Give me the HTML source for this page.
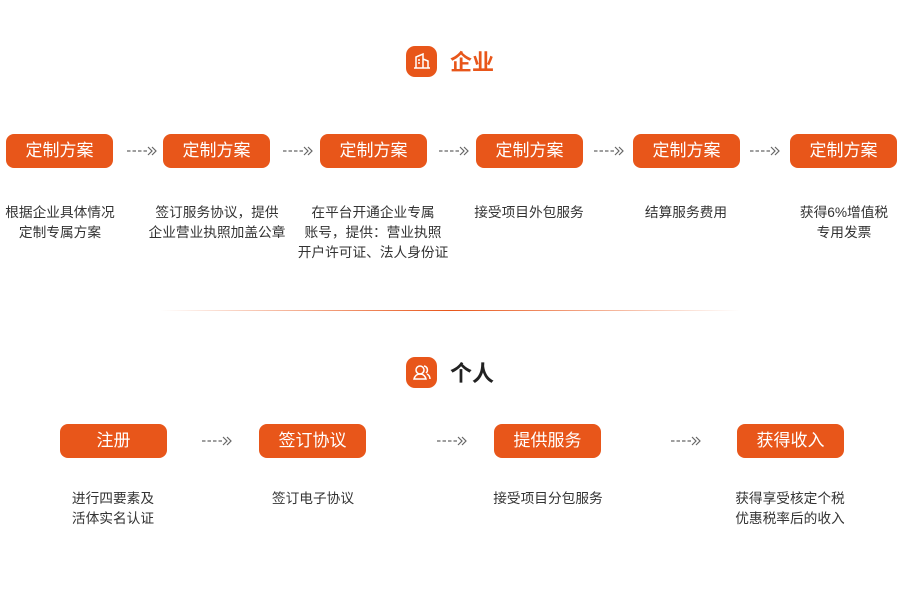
<!DOCTYPE html>
<html><head><meta charset="utf-8"><style>
body{margin:0;width:900px;height:600px;background:#fff;position:relative;font-family:"Liberation Sans","Noto Sans CJK SC",sans-serif;overflow:hidden}
.b{position:absolute;height:34px;width:107px;background:#e8561a;color:#fff;border-radius:8px;font-size:17px;line-height:34px;text-align:center}
.t{position:absolute;width:180px;text-align:center;font-size:13.7px;line-height:20px;color:#333}
.a{position:absolute;width:31px;height:10px}
.h{position:absolute;font-size:22px;font-weight:bold}
.ic{position:absolute;width:31px;height:31px;border-radius:9px;background:#e8561a}
</style></head><body>
<svg width="0" height="0" style="position:absolute"><defs><g id="ar"><path d="M0 5H20" stroke="#666" stroke-width="1.2" stroke-dasharray="3.5 2"/><path d="M21 1l4 4-4 4M25 1l4 4-4 4" stroke="#666" stroke-width="1.2" fill="none"/></g></defs></svg>
<div class="ic" style="left:406px;top:46px"><svg width="31" height="31"><path d="M10 22V11l7-3v14M17 13l5 2v7M8 22h16M12 14h2M12 17h2" stroke="#fff" stroke-width="1.5" fill="none"/></svg></div>
<div class="h" style="left:450px;top:45px;color:#e8561a">企业</div>
<div class="b" style="left:6px;top:134px">定制方案</div>
<div class="b" style="left:163px;top:134px">定制方案</div>
<div class="b" style="left:320px;top:134px">定制方案</div>
<div class="b" style="left:476px;top:134px">定制方案</div>
<div class="b" style="left:633px;top:134px">定制方案</div>
<div class="b" style="left:790px;top:134px">定制方案</div>
<svg class="a" style="left:127px;top:146px"><use href="#ar"/></svg>
<svg class="a" style="left:283px;top:146px"><use href="#ar"/></svg>
<svg class="a" style="left:439px;top:146px"><use href="#ar"/></svg>
<svg class="a" style="left:594px;top:146px"><use href="#ar"/></svg>
<svg class="a" style="left:750px;top:146px"><use href="#ar"/></svg>
<div class="t" style="left:-30px;top:203px">根据企业具体情况<br>定制专属方案</div>
<div class="t" style="left:127px;top:203px">签订服务协议，提供<br>企业营业执照加盖公章</div>
<div class="t" style="left:283px;top:203px">在平台开通企业专属<br>账号，提供：营业执照<br>开户许可证、法人身份证</div>
<div class="t" style="left:439px;top:203px">接受项目外包服务</div>
<div class="t" style="left:596px;top:203px">结算服务费用</div>
<div class="t" style="left:754px;top:203px">获得6%增值税<br>专用发票</div>
<div style="position:absolute;left:160px;top:310px;width:580px;height:1px;background:linear-gradient(90deg,rgba(232,86,26,0),#e8561a 50%,rgba(232,86,26,0))"></div>
<div class="ic" style="left:406px;top:357px"><svg width="31" height="31"><circle cx="14" cy="13" r="4" stroke="#fff" stroke-width="1.5" fill="none"/><path d="M8 22c1-4 4-5 6-5s5 1 6 5zM18 9a4 4 0 0 1 2 7M21 17c2 1 3 3 3 5" stroke="#fff" stroke-width="1.5" fill="none"/></svg></div>
<div class="h" style="left:450px;top:356px;color:#222">个人</div>
<div class="b" style="left:60px;top:424px">注册</div>
<div class="b" style="left:259px;top:424px">签订协议</div>
<div class="b" style="left:494px;top:424px">提供服务</div>
<div class="b" style="left:737px;top:424px">获得收入</div>
<svg class="a" style="left:202px;top:436px"><use href="#ar"/></svg>
<svg class="a" style="left:437px;top:436px"><use href="#ar"/></svg>
<svg class="a" style="left:671px;top:436px"><use href="#ar"/></svg>
<div class="t" style="left:23px;top:489px">进行四要素及<br>活体实名认证</div>
<div class="t" style="left:223px;top:489px">签订电子协议</div>
<div class="t" style="left:458px;top:489px">接受项目分包服务</div>
<div class="t" style="left:700px;top:489px">获得享受核定个税<br>优惠税率后的收入</div>
</body></html>
